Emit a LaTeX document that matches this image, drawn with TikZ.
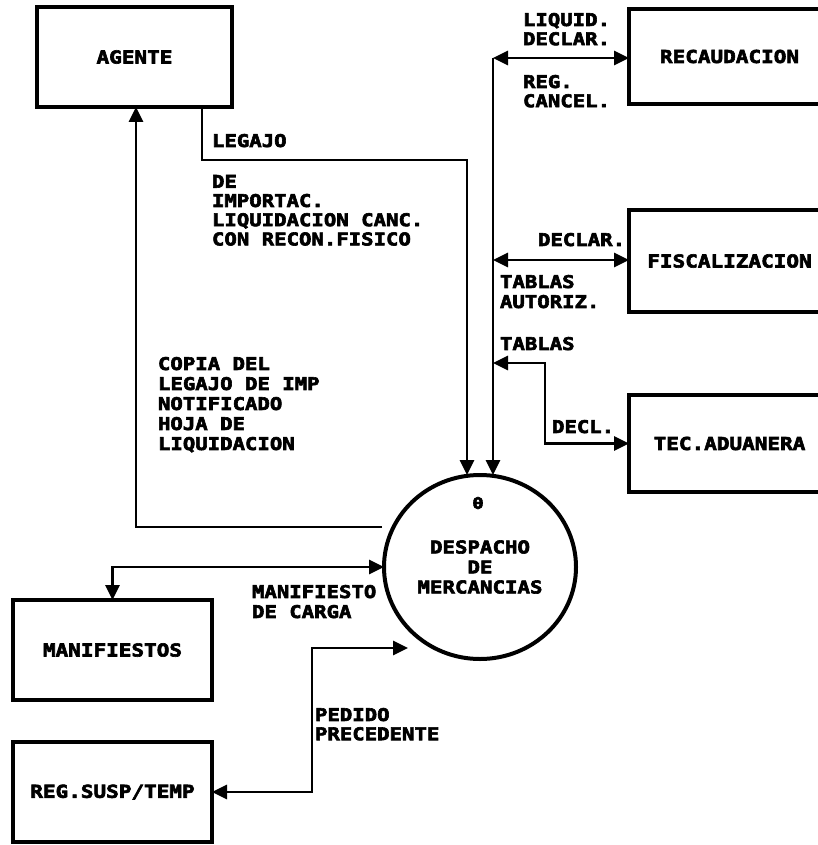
\documentclass[tikz,border=0pt]{standalone}
\usepackage{fontspec}
\setmainfont{DejaVu Sans Mono}[FakeStretch=1.18,BoldFeatures={FakeBold=3.5}]
\usetikzlibrary{arrows.meta,shapes.geometric}
\newcommand\boxfnt{\bfseries\fontsize{17.8}{20}\selectfont}
\newcommand\lblfnt{\bfseries\fontsize{17.5}{19.2}\selectfont}
\tikzset{
  box/.style={draw,rectangle,line width=4.5pt,inner sep=0pt,outer sep=0pt,font=\boxfnt},
  lbl/.style={anchor=north west,inner sep=0pt,outer sep=0pt,align=left,font=\lblfnt},
  tip/.tip={Triangle[length=15pt,width=14pt]},
  flow/.style={line width=2.8pt,-tip},
  flowtwo/.style={line width=2.8pt,tip-tip},
}
\begin{document}
\begin{tikzpicture}[x=1pt,y=-1pt]
\clip (0,0) rectangle (818,845);
\fill[white] (0,0) rectangle (818,845);

% boxes
\node[box,minimum width=195pt,minimum height=100pt] (agente) at (134.5,57) {AGENTE};
\node[box,minimum width=201pt,minimum height=95pt] (recaud) at (729.5,56.5) {RECAUDACION};
\node[box,minimum width=201pt,minimum height=102pt] (fisc) at (729.5,261) {FISCALIZACION};
\node[box,minimum width=201pt,minimum height=97pt] (tec) at (729.5,443.5) {TEC.ADUANERA};
\node[box,minimum width=199pt,minimum height=100pt] (manif) at (112.5,650) {MANIFIESTOS};
\node[box,minimum width=199pt,minimum height=100pt] (reg) at (112.5,792) {REG.SUSP/TEMP};

% process
\node[draw,ellipse,line width=4pt,minimum width=192pt,minimum height=184pt,inner sep=0pt,outer sep=0pt,
      align=center,font=\bfseries\fontsize{17.6}{20}\selectfont] (desp) at (480,567)
      {DESPACHO\\DE\\MERCANCIAS};
\node[inner sep=0pt,font=\bfseries\fontsize{16}{16}\selectfont] (zero) at (478,503) {0};

% coordinates
\coordinate (vtop) at (493,58);
\coordinate (vfis) at (493,260);
\coordinate (vtec) at (493,363);
\coordinate (tbend) at (545,363);
\coordinate (lg) at (202,160);
\coordinate (lgx) at (467,160);
\coordinate (ret) at (382,527);
\coordinate (retc) at (136,527);
\coordinate (pedc) at (312,648);
\coordinate (pedtip) at (408,648);

% connectors
\draw[flowtwo] (vtop) -- (vtop -| recaud.west);
\draw[flow] (vtop) -- (vtop |- desp.north);
\draw[flowtwo] (vfis) -- (vfis -| fisc.west);
\draw[flowtwo] (vtec) -- (tbend) |- (tec.west);
\draw[flow] (agente.south -| lg) -- (lg) -- (lgx) -- (lgx |- desp.north);
\draw[flow] (ret) -- (retc) -- (retc |- agente.south);
\draw[flowtwo] (manif.north) |- (desp.west);
\draw[flowtwo] (reg.east) -| (pedc) -- (pedtip);

% labels
\node[lbl] (tlegajo) at (212,134) {LEGAJO};
\node[lbl] (tdeimp) at (212,175) {DE\\IMPORTAC.\\LIQUIDACION CANC.\\CON RECON.FISICO};
\node[lbl,font=\bfseries\fontsize{17.5}{20}\selectfont] (tcopia) at (158,357) {COPIA DEL\\LEGAJO DE IMP\\NOTIFICADO\\HOJA DE\\LIQUIDACION};
\node[lbl] (tliq) at (523,13) {LIQUID.\\DECLAR.};
\node[lbl] (treg) at (523,75) {REG.\\CANCEL.};
\node[lbl] (tdeclar) at (538,233) {DECLAR.};
\node[lbl,font=\bfseries\fontsize{17.5}{20}\selectfont] (ttabaut) at (500,275) {TABLAS\\AUTORIZ.};
\node[lbl] (ttablas) at (500,337) {TABLAS};
\node[lbl] (tdecl) at (552,420) {DECL.};
\node[lbl,font=\bfseries\fontsize{17.5}{20}\selectfont] (tmanc) at (252,585) {MANIFIESTO\\DE CARGA};
\node[lbl] (tped) at (315,708) {PEDIDO\\PRECEDENTE};
\end{tikzpicture}
\end{document}
